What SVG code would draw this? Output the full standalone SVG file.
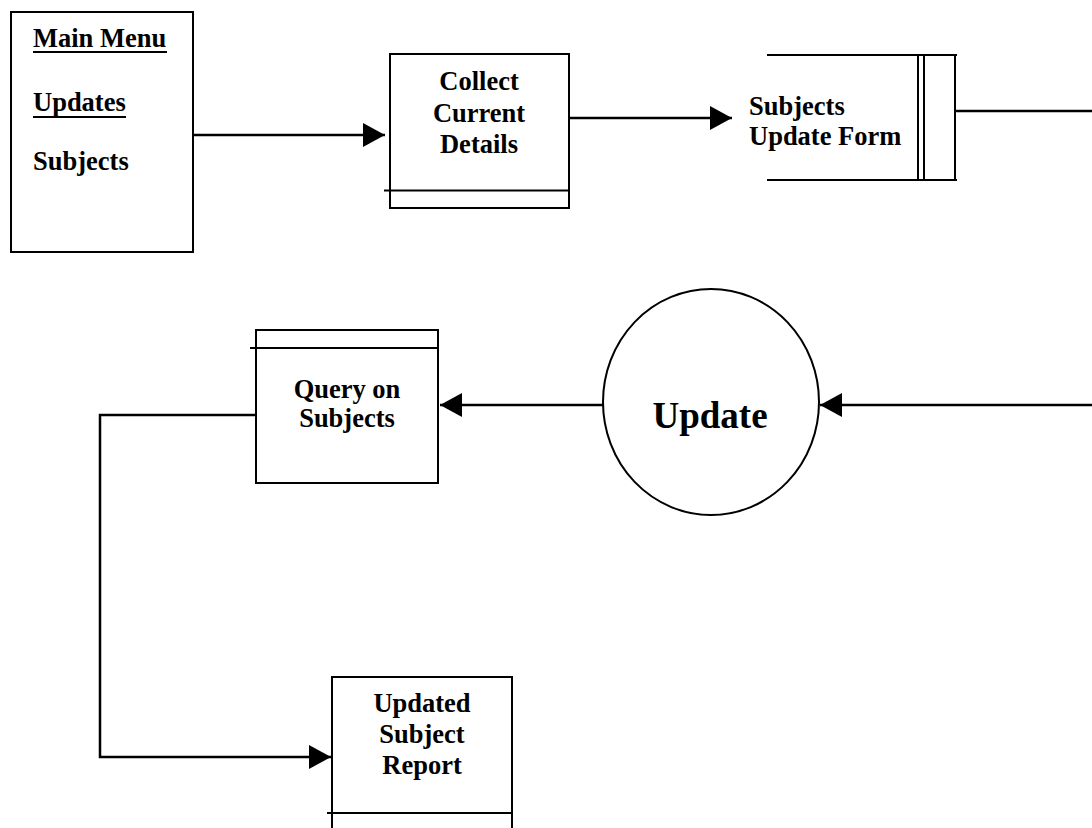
<svg xmlns="http://www.w3.org/2000/svg" width="1092" height="828" viewBox="0 0 1092 828">
  <style>
    .box { fill: none; stroke: #000; stroke-width: 2; }
    .ln { fill: none; stroke: #000; stroke-width: 2; }
    .conn { fill: none; stroke: #000; stroke-width: 2.5; }
    .t { font-family: "Liberation Serif", "Times New Roman", serif; font-weight: bold; font-size: 26.5px; fill: #000; }
    .tc { text-anchor: middle; }
    .big { font-size: 37px; }
  </style>
  <defs>
    <marker id="arrow" markerUnits="userSpaceOnUse" markerWidth="22" markerHeight="24" refX="22" refY="12" orient="auto">
      <path d="M0,0 L22,12 L0,24 z" fill="#000"/>
    </marker>
  </defs>
  <rect width="1092" height="828" fill="#fff"/>

  <g id="main-menu">
    <rect class="box" x="11" y="12" width="182" height="240"/>
    <text class="t" x="33" y="47">Main Menu</text>
    <line class="ln" x1="33" y1="52" x2="167" y2="52"/>
    <text class="t" x="33" y="111">Updates</text>
    <line class="ln" x1="33" y1="117" x2="126" y2="117"/>
    <text class="t" x="33" y="170">Subjects</text>
  </g>

  <g id="collect-details">
    <rect class="box" x="390" y="54" width="179" height="154"/>
    <line class="ln" x1="384" y1="190.5" x2="569" y2="190.5"/>
    <text class="t tc" x="479" y="90">Collect</text>
    <text class="t tc" x="479" y="122">Current</text>
    <text class="t tc" x="479" y="153">Details</text>
  </g>

  <g id="subjects-update-form">
    <line class="ln" x1="767" y1="55" x2="957" y2="55"/>
    <line class="ln" x1="767" y1="180" x2="957" y2="180"/>
    <line class="ln" x1="918" y1="55" x2="918" y2="180"/>
    <line class="ln" x1="924" y1="55" x2="924" y2="180"/>
    <line class="ln" x1="955" y1="55" x2="955" y2="180"/>
    <text class="t" x="749" y="115">Subjects</text>
    <text class="t" x="749" y="145">Update Form</text>
  </g>

  <g id="update">
    <ellipse class="box" cx="711" cy="402" rx="108" ry="113"/>
    <text class="t tc big" x="710" y="428">Update</text>
  </g>

  <g id="query-on-subjects">
    <rect class="box" x="256" y="330" width="182" height="153"/>
    <line class="ln" x1="250" y1="348" x2="438" y2="348"/>
    <text class="t tc" x="347" y="398">Query on</text>
    <text class="t tc" x="347" y="427">Subjects</text>
  </g>

  <g id="updated-subject-report">
    <path class="box" d="M332,830 V677 H512 V830"/>
    <line class="ln" x1="327" y1="813" x2="512" y2="813"/>
    <text class="t tc" x="422" y="712">Updated</text>
    <text class="t tc" x="422" y="743">Subject</text>
    <text class="t tc" x="422" y="774">Report</text>
  </g>

  <g id="connectors">
    <path class="conn" d="M193,135 H385" marker-end="url(#arrow)"/>
    <path class="conn" d="M569,118 H732" marker-end="url(#arrow)"/>
    <path class="conn" d="M955,111 H1094"/>
    <path class="conn" d="M1094,405 H820" marker-end="url(#arrow)"/>
    <path class="conn" d="M603,405 H440" marker-end="url(#arrow)"/>
    <path class="conn" d="M256,415 H100 V757 H331" marker-end="url(#arrow)"/>
  </g>
</svg>
